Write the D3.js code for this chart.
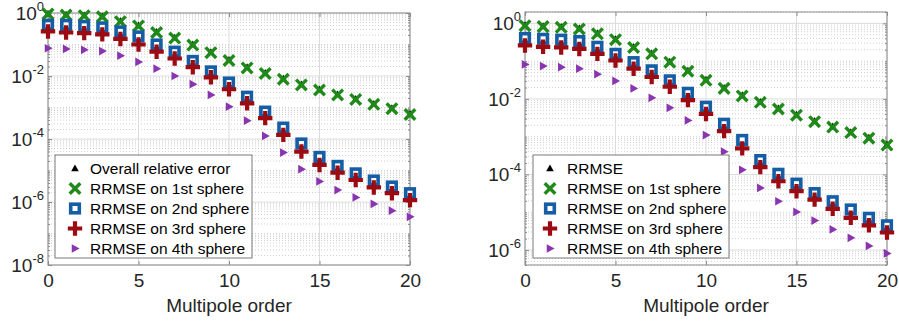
<!DOCTYPE html>
<html><head><meta charset="utf-8">
<script src="https://cdn.jsdelivr.net/npm/d3@7/dist/d3.min.js"></script>
<style>
html,body{margin:0;padding:0;background:#fff;}
svg{display:block;font-family:"Liberation Sans",Arial,sans-serif;}
</style></head>
<body>
<svg id="chart" width="899" height="322"></svg>
<script>
// ---------- DATA ----------
const orders = [0,1,2,3,4,5,6,7,8,9,10,11,12,13,14,15,16,17,18,19,20];
const xTicks = [0,5,10,15,20];

// Left panel
const leftOverall = [0.95,0.88,0.84,0.78,0.55,0.40,0.25,0.165,0.10,0.057,0.032,0.019,0.0125,0.0082,0.0054,0.0037,0.0026,0.00185,0.0013,0.00095,0.00062];
const leftS1 = [0.93,0.86,0.82,0.76,0.53,0.39,0.24,0.16,0.096,0.055,0.031,0.018,0.012,0.0079,0.0052,0.0036,0.0025,0.0018,0.00126,0.00092,0.0006];
const leftS2 = [0.42,0.42,0.39,0.35,0.26,0.18,0.10,0.059,0.030,0.014,0.0062,0.0022,0.00074,0.00023,7.2e-5,2.7e-5,1.4e-5,8.1e-6,4.8e-6,3.1e-6,1.9e-6];
const leftS3 = [0.26,0.24,0.23,0.21,0.15,0.10,0.059,0.036,0.019,0.0091,0.0038,0.00136,0.00046,0.000135,4.0e-5,1.5e-5,8.5e-6,5.0e-6,2.9e-6,1.9e-6,1.15e-6];
const leftS4 = [0.076,0.072,0.068,0.062,0.044,0.028,0.017,0.010,0.0055,0.0025,0.00106,0.00038,0.000125,3.7e-5,1.1e-5,4.5e-6,2.4e-6,1.4e-6,8.7e-7,5.3e-7,3.4e-7];
const leftYTicks = [1,1e-2,1e-4,1e-6,1e-8];
const leftYTickExp = ["0","-2","-4","-6","-8"];
const leftYDomain = [1e-8, 1];
const leftLegend = ["Overall relative error","RRMSE on 1st sphere","RRMSE on 2nd sphere","RRMSE on 3rd sphere","RRMSE on 4th sphere"];

// Right panel
const rightOverall = [0.89,0.84,0.80,0.73,0.54,0.38,0.235,0.16,0.097,0.056,0.032,0.0195,0.0124,0.0083,0.0056,0.0038,0.0026,0.00185,0.0013,0.00094,0.00062];
const rightS1 = [0.87,0.82,0.785,0.71,0.53,0.37,0.23,0.156,0.094,0.054,0.031,0.019,0.012,0.0081,0.0054,0.0037,0.0025,0.0018,0.00128,0.00091,0.0006];
const rightS2 = [0.41,0.39,0.37,0.34,0.24,0.156,0.094,0.057,0.031,0.0145,0.0062,0.0022,0.00082,0.00024,0.000104,5.7e-5,3.2e-5,1.95e-5,1.18e-5,7.1e-6,4.5e-6];
const rightS3 = [0.26,0.24,0.23,0.21,0.156,0.104,0.063,0.038,0.021,0.0093,0.0040,0.0014,0.00049,0.000156,6.6e-5,3.6e-5,2.15e-5,1.23e-5,7.1e-6,4.5e-6,2.9e-6];
const rightS4 = [0.082,0.074,0.069,0.063,0.045,0.030,0.019,0.0107,0.0058,0.0027,0.0011,0.00040,0.000133,4.4e-5,1.95e-5,1.02e-5,6.0e-6,3.5e-6,2.1e-6,1.28e-6,8.1e-7];
const rightYTicks = [1,1e-2,1e-4,1e-6];
const rightYTickExp = ["0","-2","-4","-6"];
const rightYDomain = [4e-7, 2];
const rightLegend = ["RRMSE","RRMSE on 1st sphere","RRMSE on 2nd sphere","RRMSE on 3rd sphere","RRMSE on 4th sphere"];

const xLabel = "Multipole order";

// ---------- STYLE ----------
const C = {
  black:"#000000", green:"#1f8a1a", blue:"#155ea6", red:"#9c0a12", purple:"#8a35b0",
  axis:"#8c8c8c", text:"#262626", grid:"#dcdcdc", minor:"#d0d0d0"
};

// marker drawers
function mUp(g, s){ g.append("path").attr("d",`M0,${-s}L${s*0.95},${s*0.7}L${-s*0.95},${s*0.7}Z`).attr("fill",C.black); }
function mX(g, s){ g.append("path").attr("d",`M${-s},${-s}L${s},${s}M${-s},${s}L${s},${-s}`).attr("stroke",C.green).attr("stroke-width",3.4).attr("fill","none"); }
function mSq(g, s){ g.append("rect").attr("x",-s).attr("y",-s).attr("width",2*s).attr("height",2*s).attr("fill","#fff").attr("stroke",C.blue).attr("stroke-width",3.6); }
function mPlus(g, s){ g.append("path").attr("d",`M${-s},0L${s},0M0,${-s}L0,${s}`).attr("stroke",C.red).attr("stroke-width",4.2).attr("fill","none"); }
function mRight(g, s){ g.append("path").attr("d",`M${-s*0.7},${-s*0.95}L${s},0L${-s*0.7},${s*0.95}Z`).attr("fill",C.purple); }

const svg = d3.select("#chart");

function panel(cfg){
  const x = d3.scaleLinear().domain([0,20]).range([cfg.x0,cfg.x1]);
  const y = d3.scaleLog().domain(cfg.yDomain).range([cfg.y1,cfg.y0]);
  const g = svg.append("g");

  // minor grid (dotted) at every k*10^n
  const lo = Math.floor(Math.log10(cfg.yDomain[0])), hi = Math.ceil(Math.log10(cfg.yDomain[1]));
  const minorVals = [];
  for(let e=lo;e<=hi;e++) for(let k=1;k<=9;k++){
    const v = k*Math.pow(10,e);
    if(v>=cfg.yDomain[0]*0.999 && v<=cfg.yDomain[1]*1.001 && !cfg.yTicks.some(t=>Math.abs(t-v)/v<1e-6)) minorVals.push(v);
  }
  g.selectAll(".ymin").data(minorVals).enter().append("line")
    .attr("x1",cfg.x0).attr("x2",cfg.x1).attr("y1",d=>y(d)).attr("y2",d=>y(d))
    .attr("stroke",C.minor).attr("stroke-width",1).attr("stroke-dasharray","1,2");
  // major grid
  g.selectAll(".ymaj").data(cfg.yTicks).enter().append("line")
    .attr("x1",cfg.x0).attr("x2",cfg.x1).attr("y1",d=>y(d)).attr("y2",d=>y(d))
    .attr("stroke",C.grid).attr("stroke-width",1);
  g.selectAll(".xmaj").data(xTicks).enter().append("line")
    .attr("x1",d=>x(d)).attr("x2",d=>x(d)).attr("y1",cfg.y0).attr("y2",cfg.y1)
    .attr("stroke",C.grid).attr("stroke-width",1);

  // axes via d3 (inward ticks)
  const xa = d3.axisBottom(x).tickValues(xTicks).tickSize(-4).tickFormat(d=>d).tickPadding(9);
  const xg = g.append("g").attr("transform",`translate(0,${cfg.y1})`).call(xa);
  xg.select(".domain").remove();
  xg.selectAll("line").attr("stroke",C.axis);
  xg.selectAll("text").attr("font-size",19).attr("fill",C.text).attr("font-family","Liberation Sans, Arial, sans-serif");
  const xt = d3.axisTop(x).tickValues(xTicks).tickSize(-4).tickFormat("");
  const xtg = g.append("g").attr("transform",`translate(0,${cfg.y0})`).call(xt);
  xtg.select(".domain").remove(); xtg.selectAll("line").attr("stroke",C.axis);

  const ya = d3.axisLeft(y).tickValues(cfg.yTicks).tickSize(-4).tickFormat("");
  const yg = g.append("g").attr("transform",`translate(${cfg.x0},0)`).call(ya);
  yg.select(".domain").remove(); yg.selectAll("line").attr("stroke",C.axis);
  const yam = d3.axisLeft(y).tickValues(minorVals).tickSize(-2).tickFormat("");
  const ygm = g.append("g").attr("transform",`translate(${cfg.x0},0)`).call(yam);
  ygm.select(".domain").remove(); ygm.selectAll("line").attr("stroke",C.axis);
  const yr = d3.axisRight(y).tickValues(cfg.yTicks).tickSize(-4).tickFormat("");
  const yrg = g.append("g").attr("transform",`translate(${cfg.x1},0)`).call(yr);
  yrg.select(".domain").remove(); yrg.selectAll("line").attr("stroke",C.axis);
  const yrm = d3.axisRight(y).tickValues(minorVals).tickSize(-2).tickFormat("");
  const yrgm = g.append("g").attr("transform",`translate(${cfg.x1},0)`).call(yrm);
  yrgm.select(".domain").remove(); yrgm.selectAll("line").attr("stroke",C.axis);

  // y tick labels with superscripts
  cfg.yTicks.forEach((t,i)=>{
    const tx = g.append("text").attr("x",cfg.x0-4).attr("y",y(t)+7).attr("text-anchor","end")
      .attr("fill",C.text).attr("font-size",19);
    tx.append("tspan").text("10");
    tx.append("tspan").attr("font-size",13).attr("dy",-9).text(cfg.yTickExp[i]);
  });

  // box
  g.append("rect").attr("x",cfg.x0).attr("y",cfg.y0).attr("width",cfg.x1-cfg.x0).attr("height",cfg.y1-cfg.y0)
    .attr("fill","none").attr("stroke",C.axis).attr("stroke-width",1);

  // x label
  g.append("text").attr("x",(cfg.x0+cfg.x1)/2).attr("y",cfg.y1+47).attr("text-anchor","middle")
    .attr("font-size",19).attr("fill",C.text).text(xLabel);

  // series
  const series = [
    {vals:cfg.overall, fn:mUp, s:4},
    {vals:cfg.s1, fn:mX, s:5.3},
    {vals:cfg.s2, fn:mSq, s:4.3},
    {vals:cfg.s3, fn:mPlus, s:7.2},
    {vals:cfg.s4, fn:mRight, s:4.6}
  ];
  series.forEach(se=>{
    const sg = g.append("g");
    orders.forEach((o,i)=>{
      const mg = sg.append("g").attr("transform",`translate(${x(o)},${y(se.vals[i])})`);
      se.fn(mg, se.s);
    });
  });

  // legend
  const L = cfg.legend;
  const lg = g.append("g");
  lg.append("rect").attr("x",L.x).attr("y",L.y).attr("width",L.w).attr("height",L.h)
    .attr("fill","#fff").attr("stroke","#7a7a7a").attr("stroke-width",1);
  cfg.legendLabels.forEach((lab,i)=>{
    const cy = L.y+13.5+i*20;
    const mg = lg.append("g").attr("transform",`translate(${L.x+L.mx},${cy})`);
    series[i].fn(mg, series[i].s);
    lg.append("text").attr("x",L.x+L.tx).attr("y",cy+5.5).attr("font-size",15.5).attr("fill","#000").text(lab);
  });
}

panel({x0:48,x1:410,y0:13,y1:265,yDomain:leftYDomain,yTicks:leftYTicks,yTickExp:leftYTickExp,
  overall:leftOverall,s1:leftS1,s2:leftS2,s3:leftS3,s4:leftS4,legendLabels:leftLegend,
  legend:{x:55,y:155,w:197,h:103,mx:20,tx:35}});
panel({x0:525,x1:887,y0:12,y1:265,yDomain:rightYDomain,yTicks:rightYTicks,yTickExp:rightYTickExp,
  overall:rightOverall,s1:rightS1,s2:rightS2,s3:rightS3,s4:rightS4,legendLabels:rightLegend,
  legend:{x:533,y:155,w:196,h:103,mx:17,tx:34}});
</script>
</body></html>
